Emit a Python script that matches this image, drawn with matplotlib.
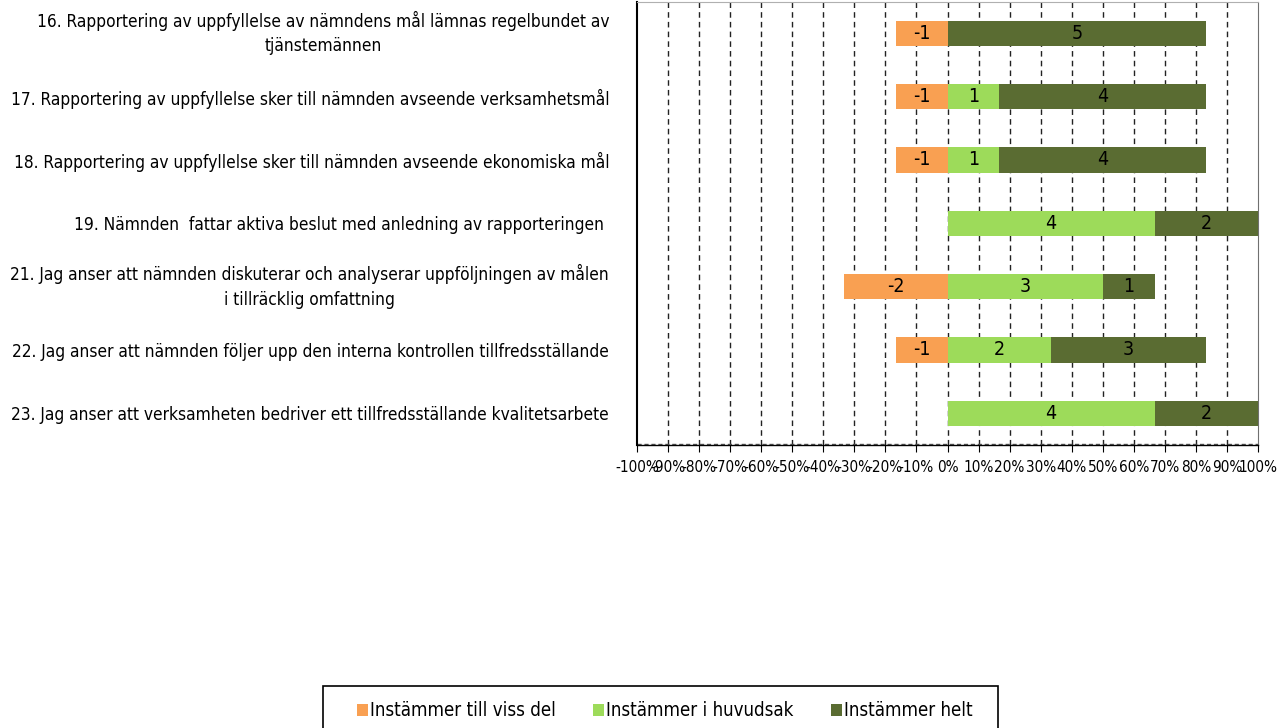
import matplotlib
matplotlib.use("Agg")
import matplotlib.pyplot as plt
from matplotlib import font_manager
from matplotlib.patches import Patch, Rectangle
import numpy as np

# pick a condensed/narrow face if one exists
cands = [f for f in font_manager.fontManager.ttflist
         if ("Narrow" in f.name or "Condensed" in f.name or f.stretch in ("condensed", "semi-condensed", "semi-expanded") and "DejaVu Sans" == f.name)
         and f.weight in (400, "normal", "regular") and f.style == "normal"]
cond = [f for f in cands if f.stretch in ("condensed",) or "Narrow" in f.name or "Condensed" in f.name]
if cond:
    FP = dict(fname=cond[0].fname)
else:
    FP = dict(family="DejaVu Sans", stretch="condensed")
def fp(size):
    return font_manager.FontProperties(size=size, **FP)

# ---- data ----
questions = [
    "16. Rapportering av uppfyllelse av nämndens mål lämnas regelbundet av\ntjänstemännen",
    "17. Rapportering av uppfyllelse sker till nämnden avseende verksamhetsmål",
    "18. Rapportering av uppfyllelse sker till nämnden avseende ekonomiska mål",
    "19. Nämnden  fattar aktiva beslut med anledning av rapporteringen ",
    "21. Jag anser att nämnden diskuterar och analyserar uppföljningen av målen\ni tillräcklig omfattning",
    "22. Jag anser att nämnden följer upp den interna kontrollen tillfredsställande",
    "23. Jag anser att verksamheten bedriver ett tillfredsställande kvalitetsarbete",
]
viss_del = [-1, -1, -1, 0, -2, -1, 0]
huvudsak = [0, 1, 1, 4, 3, 2, 4]
helt = [5, 4, 4, 2, 1, 3, 2]
n_respondents = 6
series_names = ["Instämmer till viss del", "Instämmer i huvudsak", "Instämmer helt"]
tick_values = list(range(-100, 101, 10))
tick_labels = [f"{v}%" for v in tick_values]

colors = ["#F9A052", "#9DDB5A", "#5A6C32"]

W, H = 1288, 728
fig = plt.figure(figsize=(W / 100, H / 100), dpi=100)
ax = fig.add_axes([637 / W, 1 - 445 / H, (1258 - 637) / W, (445 - 1.5) / H])

y = np.arange(len(questions))
h = 0.4
vd = np.array(viss_del) / n_respondents * 100
hu = np.array(huvudsak) / n_respondents * 100
he = np.array(helt) / n_respondents * 100

bars_vd = ax.barh(y, vd, height=h, left=0, color=colors[0], zorder=3)
bars_hu = ax.barh(y, hu, height=h, left=0, color=colors[1], zorder=3)
bars_he = ax.barh(y, he, height=h, left=hu, color=colors[2], zorder=3)

for bars, vals in [(bars_vd, viss_del), (bars_hu, huvudsak), (bars_he, helt)]:
    for b, v in zip(bars, vals):
        if v == 0:
            continue
        cx = b.get_x() + b.get_width() / 2
        cy = b.get_y() + b.get_height() / 2
        ax.text(cx, cy, f"{v}", ha="center", va="center", fontproperties=fp(14), color="black", zorder=4)

ax.set_xlim(-100, 100)
ax.set_ylim(len(questions) - 0.5, -0.5)
ax.set_xticks(tick_values)
ax.set_xticklabels(tick_labels)
for t in ax.get_xticklabels():
    t.set_fontproperties(fp(11))
ax.set_yticks(y)
ax.set_yticklabels(questions, ha="right", multialignment="center", linespacing=1.45)
ylabs = ax.get_yticklabels()
for t in ylabs:
    t.set_fontproperties(fp(13))
    t.set_va("center" if "\n" in t.get_text() else "center_baseline")
ax.tick_params(axis="y", length=0, pad=20)
ax.tick_params(axis="x", length=5, direction="out", color="black", pad=6)

for t in tick_values:
    if t in (-100, 100):
        continue
    ax.axvline(t, color="#222222", linestyle=(0, (4, 3)), linewidth=1.0, zorder=1)
ax.axhline(len(questions) - 0.5 - 0.02, color="#555555", linestyle=(0, (3, 2)), linewidth=1.0, zorder=1)

ax.spines["left"].set_color("black")
ax.spines["left"].set_linewidth(1.5)
ax.spines["bottom"].set_color("black")
ax.spines["bottom"].set_linewidth(1.0)
ax.spines["top"].set_color("#B0B0B0")
ax.spines["right"].set_color("#707070")

# scale y labels so the widest one spans ~600 px like the reference
fig.canvas.draw()
r = fig.canvas.get_renderer()
wmax = max(t.get_window_extent(r).width for t in ylabs)
s = 13 * 600 / wmax
for t in ylabs:
    t.set_fontproperties(fp(s))

# legend: manual frame + frameless legend
fig.patches.append(Rectangle((323 / W, -0.01), (998 - 323) / W, (H - 686) / H + 0.01,
                             transform=fig.transFigure, facecolor="none",
                             edgecolor="black", linewidth=1.2))
handles = [Patch(facecolor=c, edgecolor="none") for c in colors]
leg = fig.legend(handles, series_names, loc="center left",
                 bbox_to_anchor=(357 / W, 1 - 711 / H), ncol=3,
                 prop=fp(s * 1.08), frameon=False,
                 handlelength=0.6, handleheight=0.6, handletextpad=0.1,
                 columnspacing=2.0, borderpad=0, borderaxespad=0)

fig.savefig("out.png", dpi=100, facecolor="white")
